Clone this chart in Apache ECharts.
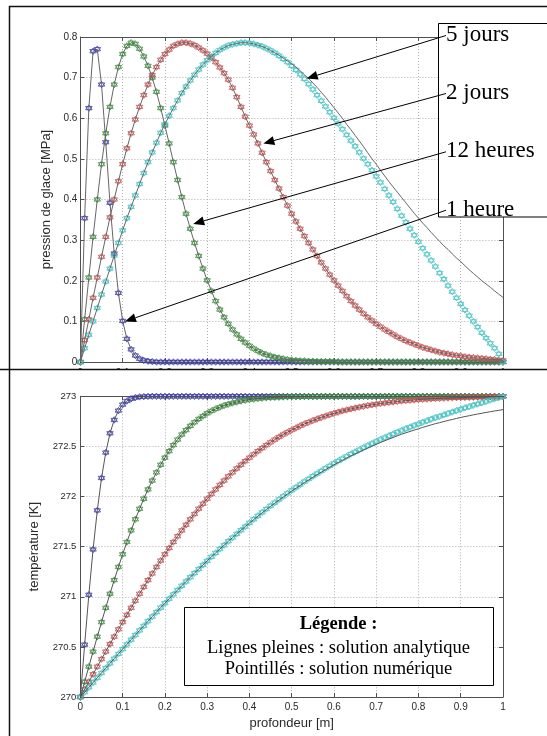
<!DOCTYPE html>
<html><head><meta charset="utf-8">
<script src="https://cdn.jsdelivr.net/npm/echarts@6/dist/echarts.min.js"></script>
<style>html,body{margin:0;padding:0;background:#fff}#c{width:547px;height:736px}</style>
</head><body><div id="c"></div>
<script>
// depth [m]
const depth = [0,0.01,0.02,0.03,0.04,0.05,0.06,0.07,0.08,0.09,
0.1,0.11,0.12,0.13,0.14,0.15,0.16,0.17,0.18,0.19,
0.2,0.21,0.22,0.23,0.24,0.25,0.26,0.27,0.28,0.29,
0.3,0.31,0.32,0.33,0.34,0.35,0.36,0.37,0.38,0.39,
0.4,0.41,0.42,0.43,0.44,0.45,0.46,0.47,0.48,0.49,
0.5,0.51,0.52,0.53,0.54,0.55,0.56,0.57,0.58,0.59,
0.6,0.61,0.62,0.63,0.64,0.65,0.66,0.67,0.68,0.69,
0.7,0.71,0.72,0.73,0.74,0.75,0.76,0.77,0.78,0.79,
0.8,0.81,0.82,0.83,0.84,0.85,0.86,0.87,0.88,0.89,
0.9,0.91,0.92,0.93,0.94,0.95,0.96,0.97,0.98,0.99,1];

// ice pressure [MPa], numerical solution (markers)
const pNum1h = [0,0.354,0.625,0.765,0.770,0.683,0.541,0.392,0.267,0.170,
0.101,0.057,0.031,0.016,0.008,0.004,0.002,0.001,0,0,
0,0,0,0,0,0,0,0,0,0, 0,0,0,0,0,0,0,0,0,0,
0,0,0,0,0,0,0,0,0,0, 0,0,0,0,0,0,0,0,0,0,
0,0,0,0,0,0,0,0,0,0, 0,0,0,0,0,0,0,0,0,0,
0,0,0,0,0,0,0,0,0,0, 0,0,0,0,0,0,0,0,0,0, 0];
const pNum12h = [0,0.105,0.208,0.308,0.400,0.487,0.563,0.628,0.683,0.726,
0.758,0.778,0.786,0.783,0.771,0.752,0.729,0.700,0.665,0.625,
0.582,0.538,0.492,0.448,0.406,0.365,0.328,0.293,0.261,0.230,
0.201,0.175,0.150,0.129,0.110,0.094,0.080,0.068,0.057,0.048,
0.040,0.033,0.027,0.022,0.018,0.015,0.012,0.010,0.008,0.006,
0.005,0.004,0.003,0.003,0.002,0.002,0.001,0.001,0.001,0.001,
0.001,0,0,0,0,0,0,0,0,0, 0,0,0,0,0,0,0,0,0,0,
0,0,0,0,0,0,0,0,0,0, 0,0,0,0,0,0,0,0,0,0, 0];
const pNum2d = [0,0.054,0.105,0.158,0.208,0.259,0.308,0.356,0.400,0.445,
0.487,0.526,0.563,0.597,0.628,0.657,0.683,0.706,0.726,0.744,
0.758,0.769,0.778,0.783,0.786,0.786,0.784,0.780,0.774,0.767,
0.759,0.749,0.738,0.725,0.711,0.695,0.675,0.652,0.628,0.604,
0.582,0.560,0.538,0.515,0.492,0.470,0.448,0.427,0.406,0.385,
0.365,0.346,0.328,0.310,0.293,0.277,0.261,0.245,0.230,0.215,
0.201,0.188,0.175,0.162,0.150,0.139,0.129,0.119,0.110,0.102,
0.094,0.087,0.080,0.074,0.068,0.062,0.057,0.052,0.048,0.044,
0.040,0.036,0.033,0.030,0.027,0.024,0.022,0.020,0.018,0.016,
0.015,0.013,0.012,0.011,0.010,0.009,0.008,0.007,0.006,0.005,0.004];
const pNum5d = [0,0.034,0.067,0.100,0.133,0.166,0.198,0.230,0.262,0.293,
0.324,0.354,0.382,0.410,0.438,0.465,0.492,0.516,0.540,0.564,
0.585,0.606,0.625,0.644,0.662,0.678,0.693,0.707,0.720,0.732,
0.743,0.752,0.761,0.768,0.774,0.779,0.782,0.784,0.786,0.786,
0.785,0.783,0.780,0.777,0.772,0.767,0.761,0.754,0.746,0.738,
0.729,0.719,0.708,0.697,0.684,0.671,0.657,0.643,0.629,0.615,
0.601,0.587,0.573,0.559,0.545,0.531,0.516,0.501,0.487,0.472,
0.457,0.442,0.426,0.410,0.394,0.377,0.360,0.344,0.328,0.312,
0.296,0.280,0.265,0.250,0.235,0.219,0.204,0.188,0.173,0.158,
0.143,0.128,0.114,0.100,0.086,0.072,0.059,0.046,0.034,0.020,0];
// ice pressure [MPa], analytical solution (lines)
const pAna1h = [0,0.354,0.625,0.765,0.770,0.683,0.541,0.392,0.267,0.170,
0.101,0.057,0.031,0.016,0.008,0.004,0.002,0.001,0,0,
0,0,0,0,0,0,0,0,0,0, 0,0,0,0,0,0,0,0,0,0,
0,0,0,0,0,0,0,0,0,0, 0,0,0,0,0,0,0,0,0,0,
0,0,0,0,0,0,0,0,0,0, 0,0,0,0,0,0,0,0,0,0,
0,0,0,0,0,0,0,0,0,0, 0,0,0,0,0,0,0,0,0,0, 0];
const pAna12h = pNum12h;
const pAna2d = pNum2d;
const pAna5d = [0,0.034,0.067,0.100,0.133,0.166,0.198,0.230,0.262,0.293,
0.324,0.354,0.382,0.410,0.438,0.465,0.492,0.516,0.540,0.564,
0.585,0.606,0.625,0.644,0.662,0.678,0.693,0.707,0.720,0.732,
0.743,0.752,0.761,0.768,0.774,0.779,0.782,0.784,0.786,0.786,
0.785,0.783,0.780,0.777,0.772,0.767,0.761,0.755,0.748,0.741,
0.734,0.726,0.717,0.707,0.698,0.687,0.676,0.664,0.652,0.639,
0.626,0.613,0.600,0.585,0.572,0.558,0.544,0.530,0.515,0.500,
0.487,0.472,0.458,0.444,0.431,0.418,0.405,0.392,0.379,0.366,
0.354,0.342,0.331,0.319,0.308,0.297,0.286,0.277,0.266,0.256,
0.247,0.237,0.227,0.218,0.209,0.200,0.192,0.184,0.175,0.167,0.159];

// temperature [K], numerical solution (markers)
const tNum1h = [270,270.522,271.020,271.472,271.862,272.185,272.439,272.631,272.764,272.857,
272.917,272.953,272.975,272.987,272.994,272.997,272.999,273,273,273,
273,273,273,273,273,273,273,273,273,273, 273,273,273,273,273,273,273,273,273,273,
273,273,273,273,273,273,273,273,273,273, 273,273,273,273,273,273,273,273,273,273,
273,273,273,273,273,273,273,273,273,273, 273,273,273,273,273,273,273,273,273,273,
273,273,273,273,273,273,273,273,273,273, 273,273,273,273,273,273,273,273,273,273, 273];
const tNum12h = [270,270.152,270.303,270.453,270.602,270.747,270.890,271.030,271.166,271.297,
271.424,271.546,271.662,271.773,271.878,271.978,272.071,272.159,272.241,272.317,
272.388,272.453,272.513,272.568,272.619,272.663,272.705,272.741,272.774,272.803,
272.830,272.854,272.874,272.892,272.908,272.921,272.933,272.943,272.953,272.960,
272.967,272.972,272.977,272.981,272.984,272.987,272.989,272.991,272.993,272.994,
272.996,272.996,272.997,272.998,272.998,272.998,272.999,272.999,272.999,272.999,
273,273,273,273,273,273,273,273,273,273, 273,273,273,273,273,273,273,273,273,273,
273,273,273,273,273,273,273,273,273,273, 273,273,273,273,273,273,273,273,273,273, 273];
const tNum2d = [270,270.076,270.152,270.227,270.303,270.378,270.453,270.528,270.602,270.675,
270.747,270.819,270.890,270.960,271.030,271.098,271.166,271.232,271.297,271.361,
271.424,271.486,271.546,271.604,271.662,271.718,271.773,271.826,271.878,271.928,
271.978,272.025,272.071,272.116,272.159,272.201,272.241,272.280,272.317,272.353,
272.388,272.421,272.453,272.483,272.513,272.541,272.568,272.594,272.619,272.641,
272.663,272.684,272.705,272.724,272.741,272.758,272.774,272.789,272.803,272.817,
272.830,272.842,272.854,272.864,272.874,272.883,272.892,272.900,272.908,272.915,
272.921,272.928,272.933,272.939,272.943,272.948,272.953,272.957,272.960,272.963,
272.967,272.970,272.972,272.975,272.977,272.979,272.981,272.983,272.984,272.986,
272.987,272.988,272.989,272.990,272.991,272.992,272.993,272.994,272.995,272.997,273];
const tNum5d = [270,270.048,270.096,270.144,270.192,270.240,270.288,270.335,270.383,270.430,
270.478,270.525,270.572,270.618,270.665,270.710,270.756,270.802,270.847,270.892,
270.936,270.980,271.024,271.067,271.110,271.153,271.195,271.236,271.277,271.318,
271.358,271.398,271.437,271.476,271.514,271.554,271.590,271.627,271.664,271.700,
271.738,271.773,271.808,271.842,271.875,271.908,271.939,271.971,272.002,272.032,
272.062,272.091,272.119,272.149,272.175,272.203,272.229,272.255,272.281,272.306,
272.331,272.355,272.378,272.401,272.424,272.445,272.467,272.488,272.509,272.529,
272.549,272.569,272.587,272.606,272.624,272.642,272.659,272.677,272.692,272.709,
272.724,272.741,272.756,272.772,272.787,272.800,272.815,272.829,272.843,272.857,
272.871,272.885,272.897,272.911,272.923,272.936,272.949,272.962,272.975,272.987,273];
// temperature [K], analytical solution (lines)
const tAna1h = tNum1h;
const tAna12h = tNum12h;
const tAna2d = tNum2d;
const tAna5d = [270,270.048,270.096,270.144,270.192,270.240,270.288,270.335,270.383,270.430,
270.478,270.525,270.572,270.618,270.665,270.710,270.756,270.802,270.847,270.892,
270.936,270.980,271.024,271.067,271.110,271.153,271.195,271.236,271.277,271.318,
271.358,271.398,271.437,271.476,271.514,271.554,271.590,271.627,271.664,271.700,
271.735,271.769,271.804,271.837,271.870,271.902,271.933,271.964,271.995,272.025,
272.054,272.082,272.110,272.139,272.165,272.192,272.218,272.243,272.268,272.292,
272.316,272.339,272.361,272.383,272.405,272.425,272.445,272.465,272.484,272.503,
272.521,272.539,272.556,272.573,272.589,272.606,272.621,272.636,272.649,272.663,
272.676,272.690,272.702,272.715,272.727,272.737,272.748,272.759,272.769,272.779,
272.789,272.798,272.806,272.815,272.823,272.831,272.839,272.846,272.854,272.860,272.867];

const timeLabels = ['1 heure', '12 heures', '2 jours', '5 jours'];
const seriesColors = ['#3b3ba8', '#3f8f3f', '#c65252', '#44c2c2'];
const legendTitle = 'Légende :';
const legendLines = ['Lignes pleines : solution analytique', 'Pointillés : solution numérique'];

const pNum = [pNum1h, pNum12h, pNum2d, pNum5d];
const pAna = [pAna1h, pAna12h, pAna2d, pAna5d];
const tNum = [tNum1h, tNum12h, tNum2d, tNum5d];
const tAna = [tAna1h, tAna12h, tAna2d, tAna5d];

const pairs = (ys) => depth.map((x, i) => [x, ys[i]]);
const hex = 'path://M0,-10L8.66,5L-8.66,5ZM0,10L8.66,-5L-8.66,-5Z';
const axisCol = '#505050', labCol = '#2a2a2a', gridCol = '#b0b0b0';
const sans = '"Liberation Sans", Arial, sans-serif';
const serif = '"Liberation Serif", "Times New Roman", serif';

function xAx(gi, pos, showLab, name, margin) {
  return {
    gridIndex: gi, type: 'value', position: pos, min: 0, max: 1, interval: 0.1,
    axisLine: { show: true, onZero: false, lineStyle: { color: axisCol, width: 1 } },
    axisTick: { show: true, inside: true, length: 4, lineStyle: { color: axisCol } },
    axisLabel: { show: showLab, fontSize: 10, color: labCol, margin: margin || 5, fontFamily: sans },
    splitLine: { show: pos === 'bottom', lineStyle: { type: [1, 2], color: gridCol, width: 1 } },
    name: name || '', nameLocation: 'middle', nameGap: 20,
    nameTextStyle: { fontSize: 13, color: labCol, fontFamily: sans }
  };
}
function yAx(gi, pos, min, max, itv, showLab, name, gap, fs, margin) {
  return {
    gridIndex: gi, type: 'value', position: pos, min: min, max: max, interval: itv,
    axisLine: { show: true, onZero: false, lineStyle: { color: axisCol, width: 1 } },
    axisTick: { show: true, inside: true, length: 4, lineStyle: { color: axisCol } },
    axisLabel: { show: showLab, fontSize: fs || 10, color: labCol, margin: margin || 3, fontFamily: sans },
    splitLine: { show: pos === 'left', lineStyle: { type: [1, 2], color: gridCol, width: 1 } },
    name: name || '', nameLocation: 'middle', nameGap: gap || 20, nameRotate: 90,
    nameTextStyle: { fontSize: 13, color: labCol, fontFamily: sans }
  };
}

const series = [];
// pressure panel
for (let k = 0; k < 4; k++) {
  series.push({ type: 'scatter', xAxisIndex: 0, yAxisIndex: 0, data: pairs(pNum[k]), symbol: hex, symbolSize: 6.5,
    itemStyle: { color: 'rgba(0,0,0,0)', borderColor: seriesColors[k], borderWidth: 1 }, silent: true, z: 2 });
}
for (let k = 0; k < 4; k++) {
  series.push({ type: 'line', xAxisIndex: 0, yAxisIndex: 0, data: pairs(pAna[k]), symbol: 'none',
    lineStyle: { color: '#666666', width: 1 }, silent: true, z: 3 });
}
// temperature panel
for (let k = 0; k < 4; k++) {
  series.push({ type: 'scatter', xAxisIndex: 2, yAxisIndex: 2, data: pairs(tNum[k]), symbol: hex, symbolSize: 6.5,
    itemStyle: { color: 'rgba(0,0,0,0)', borderColor: seriesColors[k], borderWidth: 1 }, silent: true, z: 2 });
}
for (let k = 0; k < 4; k++) {
  series.push({ type: 'line', xAxisIndex: 2, yAxisIndex: 2, data: pairs(tAna[k]), symbol: 'none',
    lineStyle: { color: '#555555', width: 1 }, silent: true, z: 3 });
}

const chart = echarts.init(document.getElementById('c'), null, { renderer: 'canvas' });
chart.setOption({
  animation: false,
  backgroundColor: '#fff',
  grid: [
    { left: 80.4, top: 37, width: 422.6, height: 325, outerBoundsMode: 'none' },
    { left: 80.4, top: 396.3, width: 422.6, height: 300.7, outerBoundsMode: 'none' }
  ],
  xAxis: [
    xAx(0, 'bottom', true, '', 6), xAx(0, 'top', false),
    xAx(1, 'bottom', true, 'profondeur [m]'), xAx(1, 'top', false)
  ],
  yAxis: [
    yAx(0, 'left', 0, 0.8, 0.1, true, 'pression de glace [MPa]', 25, 10, 3),
    yAx(0, 'right', 0, 0.8, 0.1, false),
    yAx(1, 'left', 270, 273, 0.5, true, 'température [K]', 39, 9.5, 4),
    yAx(1, 'right', 270, 273, 0.5, false)
  ],
  series: series
});

// annotations
const tipsData = [[0.1055, 0.100], [0.267, 0.340], [0.433, 0.538], [0.5355, 0.698]];
const labelY = [209.7, 151.3, 93, 35];
const g = [];
// frame
g.push({ type: 'polyline', shape: { points: [[547, 6.5], [9.5, 6.5], [9.5, 736]] }, style: { stroke: '#111', lineWidth: 1.5, fill: null }, z: 80 });
g.push({ type: 'rect', shape: { x: 10.5, y: 370, width: 537, height: 18 }, style: { fill: '#fff' }, z: 75 });
g.push({ type: 'line', shape: { x1: 0, y1: 369.5, x2: 547, y2: 369.5 }, style: { stroke: '#111', lineWidth: 1.5 }, z: 80 });
// label box
g.push({ type: 'rect', shape: { x: 438.5, y: 23.5, width: 130, height: 193.5 }, style: { fill: '#fff', stroke: '#000', lineWidth: 1 }, z: 60 });
for (let k = 0; k < 4; k++) {
  g.push({ type: 'text', style: { text: timeLabels[k], x: 446, y: labelY[k], font: '23px ' + serif, fill: '#000',
    align: 'left', verticalAlign: 'middle', textAlign: 'left', textVerticalAlign: 'middle' }, z: 65 });
  const tip = chart.convertToPixel({ gridIndex: 0 }, tipsData[k]);
  const sx = 446, sy = labelY[k] + 0.5;
  const dx = tip[0] - sx, dy = tip[1] - sy, L = Math.hypot(dx, dy);
  const ux = dx / L, uy = dy / L, nx = -uy, ny = ux;
  const bx = tip[0] - ux * 11, by = tip[1] - uy * 11;
  g.push({ type: 'line', shape: { x1: sx, y1: sy, x2: bx, y2: by }, style: { stroke: '#000', lineWidth: 1 }, z: 70 });
  g.push({ type: 'polygon', shape: { points: [[tip[0], tip[1]], [bx + nx * 4.5, by + ny * 4.5], [bx - nx * 4.5, by - ny * 4.5]] },
    style: { fill: '#000' }, z: 70 });
}
// legend box
g.push({ type: 'rect', shape: { x: 184.5, y: 607.5, width: 309, height: 78 }, style: { fill: '#fff', stroke: '#000', lineWidth: 1 }, z: 60 });
g.push({ type: 'text', style: { text: legendTitle, x: 338.5, y: 624.5, font: 'bold 18.5px ' + serif, fill: '#000',
  align: 'center', verticalAlign: 'middle', textAlign: 'center', textVerticalAlign: 'middle' }, z: 65 });
g.push({ type: 'text', style: { text: legendLines[0], x: 338.5, y: 647.8, font: '18.5px ' + serif, fill: '#000',
  align: 'center', verticalAlign: 'middle', textAlign: 'center', textVerticalAlign: 'middle' }, z: 65 });
g.push({ type: 'text', style: { text: legendLines[1], x: 338.5, y: 669.5, font: '18.5px ' + serif, fill: '#000',
  align: 'center', verticalAlign: 'middle', textAlign: 'center', textVerticalAlign: 'middle' }, z: 65 });
chart.setOption({ graphic: g });
</script>
</body></html>
